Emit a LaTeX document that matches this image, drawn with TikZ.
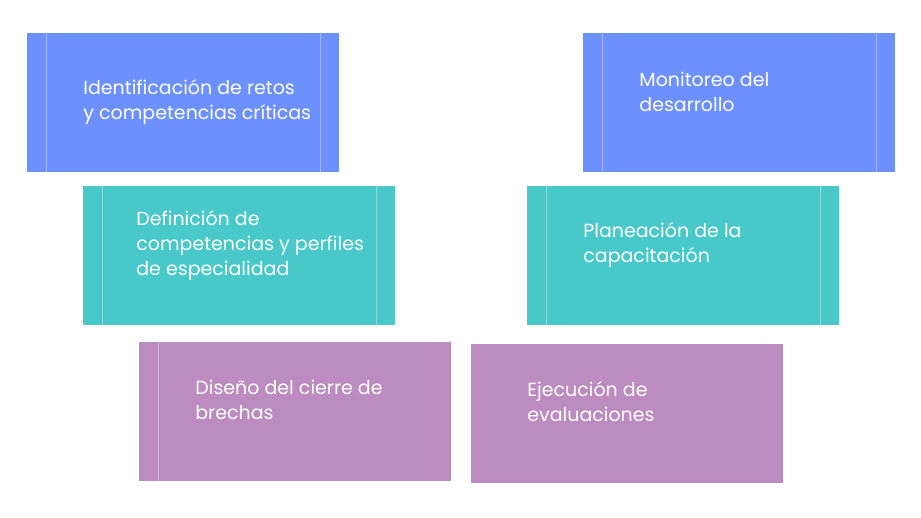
\documentclass[tikz,border=0pt]{standalone}
\usepackage{fontspec}
\setmainfont{Poppins}
\definecolor{azul}{HTML}{6C90FE}
\definecolor{turquesa}{HTML}{48C8C9}
\definecolor{lila}{HTML}{BC8BBF}
\begin{document}
\begin{tikzpicture}[x=0.5pt, y=-0.5pt]
  \tikzstyle{bloque}=[draw=none, minimum width=156pt, minimum height=69.5pt, anchor=north west, inner sep=0pt]
  \tikzstyle{texto}=[anchor=west, text=white, align=left, inner sep=0pt, font=\fontsize{9.5}{12.5}\selectfont]
  \tikzstyle{raya}=[white, opacity=0.35, line width=0.4pt]
  \useasboundingbox[fill=white] (0,0) rectangle (921,518);
  % bloques
  \foreach \pos/\col/\name in {{(27,33)/azul/b1}, {(83,186)/turquesa/b2}, {(139,342)/lila/b3},
      {(583,33)/azul/b4}, {(527,186)/turquesa/b5}, {(471,344)/lila/b6}}
    \node[bloque, fill=\col] (\name) at \pos {};
  % rayas
  \foreach \name in {b1,b2,b3,b4,b5}
    \draw[raya] ([xshift=9.5pt]\name.north west) -- ([xshift=9.5pt]\name.south west);
  \foreach \name in {b1,b2,b4,b5}
    \draw[raya] ([xshift=-9.5pt]\name.north east) -- ([xshift=-9.5pt]\name.south east);
  % textos
  \node[texto] (t1) at (83,102) {Identificación de retos\\y competencias críticas};
  \node[texto] (t2) at (136,245) {Definición de\\competencias y perfiles\\de especialidad};
  \node[texto] (t3) at (195,400) {Diseño del cierre de\\brechas};
  \node[texto] (t4) at (639,92) {Monitoreo del\\desarrollo};
  \node[texto] (t5) at (583,245) {Planeación de la\\capacitación};
  \node[texto] (t6) at (527,402) {Ejecución de\\evaluaciones};
\end{tikzpicture}
\end{document}
